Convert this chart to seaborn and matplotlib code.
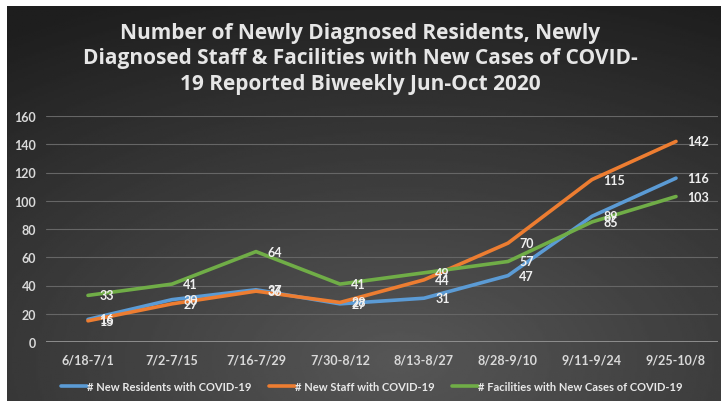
import numpy as np
import pandas as pd
import seaborn as sns
import matplotlib.pyplot as plt

periods = ["6/18-7/1", "7/2-7/15", "7/16-7/29", "7/30-8/12",
           "8/13-8/27", "8/28-9/10", "9/11-9/24", "9/25-10/8"]
residents = [16, 30, 37, 27, 31, 47, 89, 116]
staff = [15, 27, 36, 28, 44, 70, 115, 142]
facilities = [33, 41, 64, 41, 49, 57, 85, 103]

series_names = ["# New Residents with COVID-19",
                "# New Staff with COVID-19",
                "# Facilities with New Cases of COVID-19"]
colors = ["#5B9BD5", "#ED7D31", "#70AD47"]

df = pd.DataFrame({
    "period": periods * 3,
    "idx": list(range(len(periods))) * 3,
    "value": residents + staff + facilities,
    "series": [s for s in series_names for _ in periods],
})

sns.set_style("dark")
plt.rcParams["font.family"] = ["Lato", "DejaVu Sans"]

fig = plt.figure(figsize=(7.21, 4.02), dpi=100, facecolor="white")

# dark gradient background
bg = fig.add_axes([7 / 721, 0, 1 - 7 / 721, 1 - 7 / 402])
yy, xx = np.mgrid[0:1:200j, 0:1:360j]
r = np.sqrt(((xx - 0.55) / 0.9) ** 2 + ((yy - 0.9) / 0.9) ** 2)
shade = np.clip(0.34 - 0.2 * r, 0.12, 0.34)
bg.imshow(shade, cmap="gray", vmin=0, vmax=1, aspect="auto",
          extent=[0, 1, 0, 1], origin="upper")
bg.axis("off")

ax = fig.add_axes([46 / 721, 1 - 343 / 402, (718 - 46) / 721, (343 - 117) / 402])
ax.patch.set_alpha(0)

sns.lineplot(data=df, x="idx", y="value", hue="series", palette=colors,
             linewidth=2.6, sort=False, ax=ax, legend=True)

for vals in [residents, staff, facilities]:
    for i, v in enumerate(vals):
        ax.annotate(str(v), (i, v), xytext=(8, 0), textcoords="offset points",
                    va="center", ha="left", color="#f0f0f0",
                    fontsize=9, fontweight="bold")

ax.set_xlim(-0.5, len(periods) - 0.5)
ax.set_ylim(0, 160)
ax.set_yticks(range(0, 161, 20))
ax.set_xticks(range(len(periods)))
ax.set_xticklabels(periods)
ax.tick_params(axis="both", colors="#d9d9d9", labelsize=9, length=0)
ax.xaxis.set_tick_params(pad=8)
ax.yaxis.set_tick_params(pad=7)
for lab in ax.get_xticklabels() + ax.get_yticklabels():
    lab.set_fontweight("bold")
ax.grid(axis="y", color="#666666", linewidth=0.8)
ax.grid(axis="x", visible=False)
for s in ax.spines.values():
    s.set_visible(False)
ax.axhline(0, color="#9a9a9a", linewidth=1.2)
ax.set_xlabel("")
ax.set_ylabel("")

leg = ax.legend(loc="center", bbox_to_anchor=(0.485, -0.195), ncol=3,
                frameon=False, fontsize=8, handlelength=2.3,
                handletextpad=0.0, columnspacing=1.6)
for t in leg.get_texts():
    t.set_color("#e8e8e8")
    t.set_fontweight("bold")
for h in leg.get_lines():
    h.set_linewidth(2.6)

fig.text(0.5, 1 - 59 / 402,
         "Number of Newly Diagnosed Residents, Newly\n"
         "Diagnosed Staff & Facilities with New Cases of COVID-\n"
         "19 Reported Biweekly Jun-Oct 2020",
         ha="center", va="center", color="#e6e6e6", fontsize=15,
         fontweight="bold", linespacing=1.3, family=["Open Sans", "DejaVu Sans"])

fig.savefig("out.png", dpi=100, facecolor="white")
